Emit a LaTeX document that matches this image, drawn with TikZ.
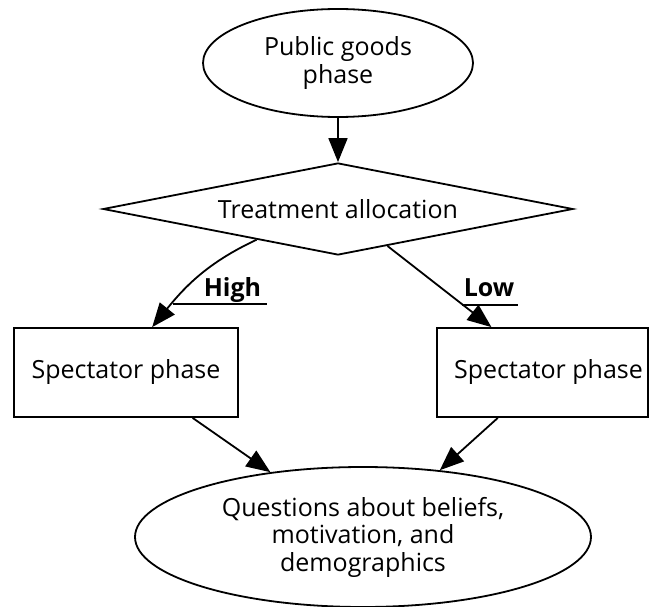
\documentclass[tikz,border=0pt]{standalone}
\usepackage{fontspec}
\setmainfont{Open Sans}
\usetikzlibrary{shapes.geometric,arrows.meta,calc}
\begin{document}
\begin{tikzpicture}[x=1pt,y=-1pt,
  every node/.style={font=\fontsize{25}{27.5}\selectfont, inner sep=0pt, align=center},
  oval/.style={ellipse, draw, line width=1.8pt},
  choice/.style={diamond, draw, line width=1.8pt, aspect=5.1},
  stage/.style={rectangle, draw, line width=1.8pt},
  arr/.style={line width=1.8pt, -{Triangle[length=24pt,width=19pt]}},
  lbl/.style={font=\fontsize{25}{27.5}\selectfont\bfseries, anchor=base},
  uline/.style={line width=1.8pt}
]
\useasboundingbox (0,0) rectangle (651,607);

\node[oval, minimum width=270pt, minimum height=108pt] (pg) at (338,63) {Public goods\\phase};
\node[choice, minimum width=470pt, minimum height=92pt] (ta) at (338,209) {Treatment allocation};
\node[stage, minimum width=224pt, minimum height=89pt] (sl) at (126,372.5) {Spectator phase};
\node[stage, minimum width=211pt, minimum height=89pt] (sr) at (542.5,372.5) {\hspace*{12pt}Spectator phase};
\node[oval, minimum width=456pt, minimum height=140pt] (qb) at (363,537) {Questions about beliefs,\\motivation, and\\demographics};

\draw[arr] (pg) -- (ta);
\draw[arr] ($(ta.west)!0.655!(ta.south)$) to[out=205,in=51] ($(sl.north west)!0.616!(sl.north east)$);
\draw[arr] ($(ta.east)!0.79!(ta.south)$) -- ($(sr.north west)!0.26!(sr.north east)$);
\draw[arr] ($(sl.south west)!0.795!(sl.south east)$) -- (qb.145);
\draw[arr] ($(sr.south west)!0.29!(sr.south east)$) -- (qb.41.4);

\node[lbl] (hi) at (232.5,296) {High};
\node[lbl] (lo) at (489,296) {Low};
\coordinate (hiA) at (173,304);
\coordinate (hiB) at (267,304);
\coordinate (loA) at (462,305);
\coordinate (loB) at (518,305);
\draw[uline] (hiA) -- (hiB);
\draw[uline] (loA) -- (loB);
\end{tikzpicture}
\end{document}
